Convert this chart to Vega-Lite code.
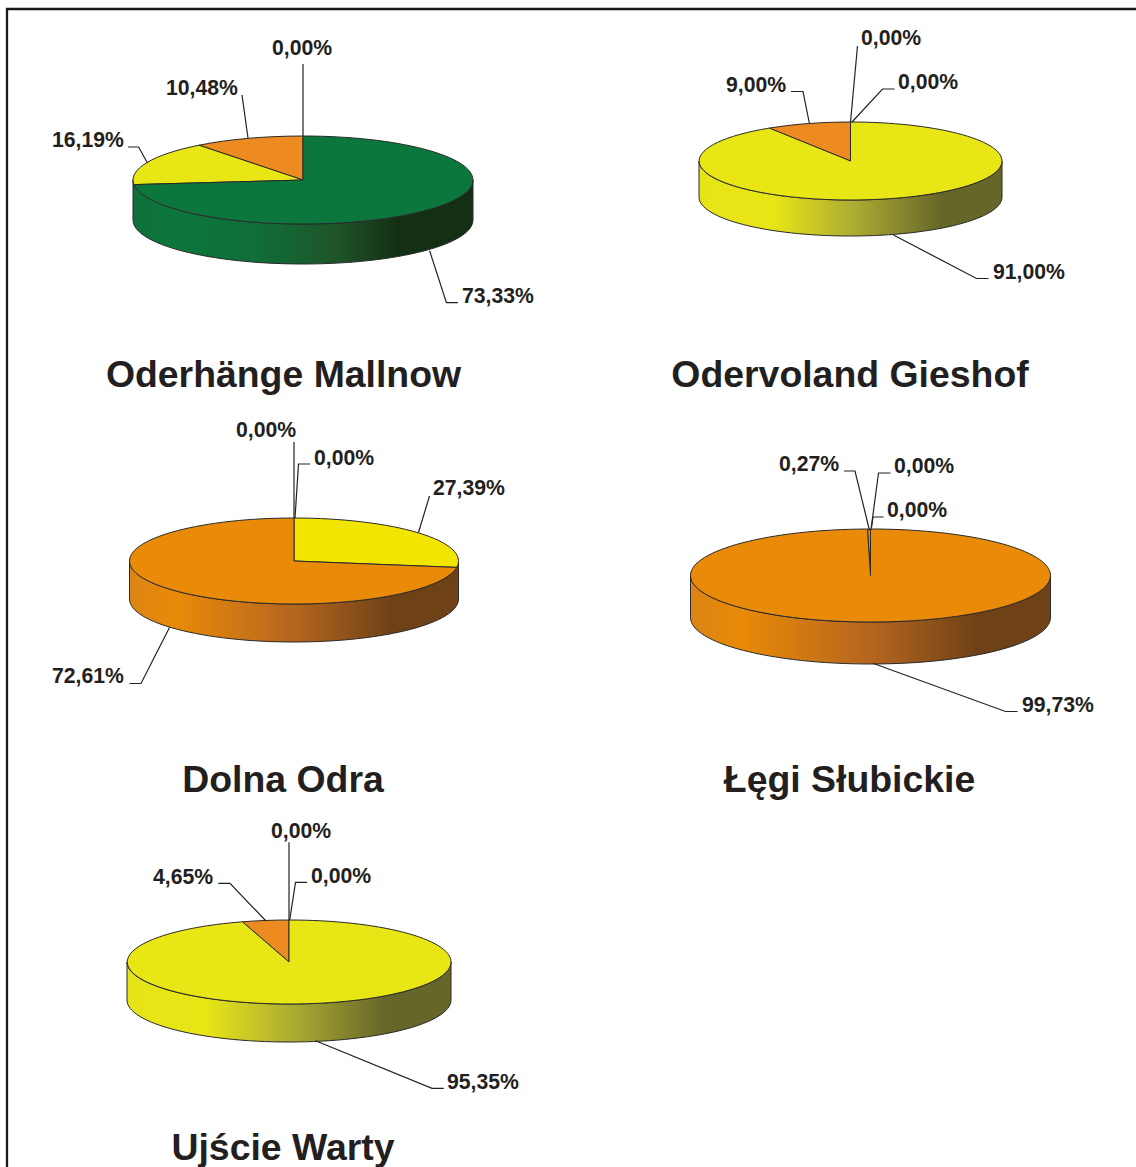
{
"$schema":"https://vega.github.io/schema/vega-lite/v6.json",
"width":1136,"height":1167,"padding":0,"autosize":{"type":"none"},
"background":"white",
"config":{"view":{"stroke":null}},
"datasets":{
"slices":[
{"slice":1,"pieId":21,"pie":"Oderhänge Mallnow","label":"0,00%","value":0,"group":"orange"},
{"slice":2,"pieId":21,"pie":"Oderhänge Mallnow","label":"10,48%","value":10.48,"group":"orange"},
{"slice":3,"pieId":21,"pie":"Oderhänge Mallnow","label":"16,19%","value":16.19,"group":"yellow"},
{"slice":4,"pieId":21,"pie":"Oderhänge Mallnow","label":"73,33%","value":73.33,"group":"green"},
{"slice":5,"pieId":22,"pie":"Odervoland Gieshof","label":"0,00%","value":0,"group":"green"},
{"slice":6,"pieId":22,"pie":"Odervoland Gieshof","label":"0,00%","value":0,"group":"red"},
{"slice":7,"pieId":22,"pie":"Odervoland Gieshof","label":"9,00%","value":9,"group":"orange"},
{"slice":8,"pieId":22,"pie":"Odervoland Gieshof","label":"91,00%","value":91,"group":"yellow"},
{"slice":9,"pieId":23,"pie":"Dolna Odra","label":"0,00%","value":0,"group":"green"},
{"slice":10,"pieId":23,"pie":"Dolna Odra","label":"0,00%","value":0,"group":"red"},
{"slice":11,"pieId":23,"pie":"Dolna Odra","label":"27,39%","value":27.39,"group":"yellow2"},
{"slice":12,"pieId":23,"pie":"Dolna Odra","label":"72,61%","value":72.61,"group":"orange2"},
{"slice":13,"pieId":24,"pie":"Łęgi Słubickie","label":"0,27%","value":0.27,"group":"orange2"},
{"slice":14,"pieId":24,"pie":"Łęgi Słubickie","label":"0,00%","value":0,"group":"green"},
{"slice":15,"pieId":24,"pie":"Łęgi Słubickie","label":"0,00%","value":0,"group":"red"},
{"slice":16,"pieId":24,"pie":"Łęgi Słubickie","label":"99,73%","value":99.73,"group":"orange2"},
{"slice":17,"pieId":25,"pie":"Ujście Warty","label":"0,00%","value":0,"group":"green"},
{"slice":18,"pieId":25,"pie":"Ujście Warty","label":"0,00%","value":0,"group":"red"},
{"slice":19,"pieId":25,"pie":"Ujście Warty","label":"4,65%","value":4.65,"group":"orange"},
{"slice":20,"pieId":25,"pie":"Ujście Warty","label":"95,35%","value":95.35,"group":"yellow"}
],
"pies":[
{"pieId":21,"titleId":31,"pie":"Oderhänge Mallnow","main":"green"},
{"pieId":22,"titleId":32,"pie":"Odervoland Gieshof","main":"yellow"},
{"pieId":23,"titleId":33,"pie":"Dolna Odra","main":"orange"},
{"pieId":24,"titleId":34,"pie":"Łęgi Słubickie","main":"orange"},
{"pieId":25,"titleId":35,"pie":"Ujście Warty","main":"yellow"}
],
"frame":[{"frameId":40}]
},
"encoding":{},
"layer":[
{"data":{"name":"frame"},
 "mark":{"type":"point","size":4,"filled":false,"stroke":"#1a1a1a","strokeWidth":2.3,"opacity":1},
 "encoding":{
  "x":{"field":"frameId","type":"quantitative","axis":null,"scale":{"zero":false,"nice":false,"domain":[1,2,3,4,5,6,7,8,9,10,11,12,13,14,15,16,17,18,19,20,21,22,23,24,25,31,32,33,34,35,40],"range":[272,166,52,462,861,898,726,993,236,314,433,52,779,894,887,1022,271,311,153,447,303,850.5,294,870.5,289,283.5,850,283,849.5,283,7]}},
  "y":{"field":"frameId","type":"quantitative","axis":null,"scale":{"zero":false,"nice":false,"domain":[1,2,3,4,5,6,7,8,9,10,11,12,13,14,15,16,17,18,19,20,21,22,23,24,25,31,32,33,34,35,40],"range":[49,89,141,297,39,83,86,273,431,459,489,677,465,467,511,706,832,877,878,1083,180,161,561,575.5,962,376,376,781,781,1149,9]}},
  "shape":{"field":"frameId","type":"nominal","legend":null,"scale":{"domain":[40],"range":["M0,1160 V0 H1132"]}}
 }},
{"data":{"name":"pies"},"transform":[{"filter":"datum.main==='green'"}],
 "mark":{"type":"point","size":4,"filled":true,"opacity":1,"stroke":"#2a2a2a","strokeWidth":1,"fill":{"gradient":"linear","x1":0,"x2":1,"y1":0,"y2":0,"stops":[{"offset":0,"color":"#0f7039"},{"offset":0.12,"color":"#0c773d"},{"offset":0.36,"color":"#0f6e39"},{"offset":0.6,"color":"#1f5428"},{"offset":0.78,"color":"#132f14"},{"offset":1,"color":"#132f14"}]}},
 "encoding":{
  "x":{"field":"pieId","type":"quantitative"},
  "y":{"field":"pieId","type":"quantitative"},
  "shape":{"field":"pieId","type":"nominal","legend":null,"scale":{"domain":[21],"range":["M-170,0 A170,44 0 0 0 170,0 V40 A170,44 0 0 1 -170,40 Z"]}}
 }},
{"data":{"name":"pies"},"transform":[{"filter":"datum.main==='yellow'"}],
 "mark":{"type":"point","size":4,"filled":true,"opacity":1,"stroke":"#2a2a2a","strokeWidth":1,"fill":{"gradient":"linear","x1":0,"x2":1,"y1":0,"y2":0,"stops":[{"offset":0,"color":"#e6e318"},{"offset":0.24,"color":"#e9e616"},{"offset":0.5,"color":"#aeae33"},{"offset":0.8,"color":"#666629"},{"offset":1,"color":"#666629"}]}},
 "encoding":{
  "x":{"field":"pieId","type":"quantitative"},
  "y":{"field":"pieId","type":"quantitative"},
  "shape":{"field":"pieId","type":"nominal","legend":null,"scale":{"domain":[22,25],"range":["M-151.5,0 A151.5,39 0 0 0 151.5,0 V36 A151.5,39 0 0 1 -151.5,36 Z","M-162,0 A162,42 0 0 0 162,0 V38 A162,42 0 0 1 -162,38 Z"]}}
 }},
{"data":{"name":"pies"},"transform":[{"filter":"datum.main==='orange'"}],
 "mark":{"type":"point","size":4,"filled":true,"opacity":1,"stroke":"#2a2a2a","strokeWidth":1,"fill":{"gradient":"linear","x1":0,"x2":1,"y1":0,"y2":0,"stops":[{"offset":0,"color":"#dc8515"},{"offset":0.14,"color":"#e98a08"},{"offset":0.5,"color":"#b5661f"},{"offset":0.8,"color":"#6e4117"},{"offset":1,"color":"#6e4117"}]}},
 "encoding":{
  "x":{"field":"pieId","type":"quantitative"},
  "y":{"field":"pieId","type":"quantitative"},
  "shape":{"field":"pieId","type":"nominal","legend":null,"scale":{"domain":[23,24],"range":["M-164.5,0 A164.5,43 0 0 0 164.5,0 V38 A164.5,43 0 0 1 -164.5,38 Z","M-180,0 A180,46.5 0 0 0 180,0 V42 A180,46.5 0 0 1 -180,42 Z"]}}
 }},
{"data":{"name":"slices"},"transform":[{"filter":"datum.value>0"}],
 "mark":{"type":"point","size":4,"filled":true,"opacity":1,"stroke":"#2a2a2a","strokeWidth":1},
 "encoding":{
  "x":{"field":"pieId","type":"quantitative"},
  "y":{"field":"pieId","type":"quantitative"},
  "fill":{"field":"group","type":"nominal","legend":null,"scale":{"domain":["green","yellow","orange","yellow2","orange2"],"range":["#0c773d","#e9e616","#ed8a20","#f2e500","#e98a08"]}},
  "shape":{"field":"slice","type":"nominal","legend":null,"scale":{"domain":[2,3,4,7,8,11,12,13,16,19,20],"range":[
   "M0,0 L-104,-34.8 A170,44 0 0 1 0,-44 Z",
   "M0,0 L-169.1,4.6 A170,44 0 0 1 -104,-34.8 Z",
   "M0,0 L0,-44 A170,44 0 0 1 0,44 A170,44 0 0 1 -169.1,4.6 Z",
   "M0,0 L-81.2,-32.9 A151.5,39 0 0 1 0,-39 Z",
   "M0,0 L0,-39 A151.5,39 0 0 1 0,39 A151.5,39 0 0 1 -81.2,-32.9 Z",
   "M0,0 L0,-43 A164.5,43 0 0 1 162.7,6.4 Z",
   "M0,0 L162.7,6.4 A164.5,43 0 0 1 0,43 A164.5,43 0 0 1 0,-43 Z",
   "M0,0 L-3.05,-46.49 A180,46.5 0 0 1 0,-46.5 Z",
   "M0,0 L0,-46.5 A180,46.5 0 0 1 0,46.5 A180,46.5 0 0 1 -180,0 A180,46.5 0 0 1 -3.05,-46.49 Z",
   "M0,0 L-46.6,-40.2 A162,42 0 0 1 0,-42 Z",
   "M0,0 L0,-42 A162,42 0 0 1 0,42 A162,42 0 0 1 -46.6,-40.2 Z"]}}
 }},
{"data":{"name":"slices"},
 "mark":{"type":"point","size":4,"filled":false,"opacity":1,"stroke":"#222222","strokeWidth":1.2},
 "encoding":{
  "x":{"field":"pieId","type":"quantitative"},
  "y":{"field":"pieId","type":"quantitative"},
  "shape":{"field":"slice","type":"nominal","legend":null,"scale":{"domain":[1,2,3,4,5,6,7,8,9,10,11,12,13,14,15,16,17,18,19,20],"range":[
   "M0,-44 V-116",
   "M-55,-42 L-61,-85",
   "M-155.5,-17 L-164.4,-33 H-175",
   "M126.6,70.7 L143.4,122.7 H155",
   "M0,-39 L7,-115",
   "M1.5,-39 L32,-72 H44",
   "M-41,-37 L-47.5,-69.5 H-59.5",
   "M43,74 L126,117.5 H138",
   "M0,-43 V-119",
   "M1,-43 L4.5,-97 H16",
   "M124.5,-28.5 L135.5,-65",
   "M-124.5,66.5 L-153,122.5 H-164.5",
   "M-1,-45 L-15.5,-104.5 H-26.5",
   "M0.5,-46 L8,-102.5 H20",
   "M1,-48 L2.5,-58.5 H13",
   "M3,88 L135,136 H147",
   "M0,-42 V-119.7",
   "M0.7,-42 L6.5,-79.7 H18",
   "M-23,-41 L-59,-78.7 H-70.7",
   "M26.5,78.7 L143,126.3 H154.8"]}}
 }},
{"data":{"name":"slices"},
 "mark":{"type":"text","font":"Liberation Sans","fontWeight":"bold","fontSize":21.2,"align":"left","baseline":"middle","color":"#231f20"},
 "encoding":{
  "x":{"field":"slice","type":"quantitative"},
  "y":{"field":"slice","type":"quantitative"},
  "text":{"field":"label","type":"nominal"}
 }},
{"data":{"name":"pies"},
 "mark":{"type":"text","font":"Liberation Sans","fontWeight":"bold","fontSize":37.4,"align":"center","baseline":"middle","color":"#231f20"},
 "encoding":{
  "x":{"field":"titleId","type":"quantitative"},
  "y":{"field":"titleId","type":"quantitative"},
  "text":{"field":"pie","type":"nominal"}
 }}
],
"resolve":{"scale":{"shape":"independent","fill":"independent"}}
}
